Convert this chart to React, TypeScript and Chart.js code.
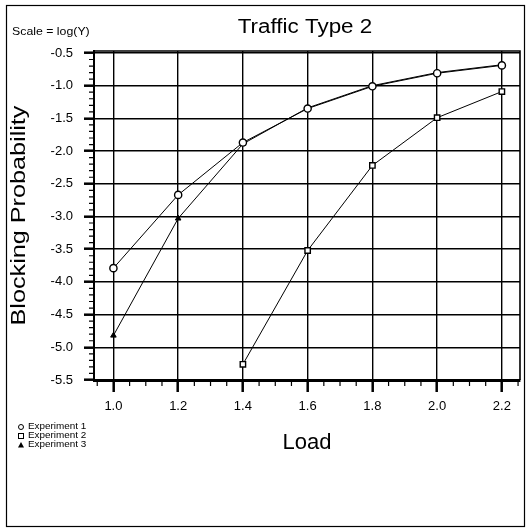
import React, { useEffect, useRef } from "react";
import { Chart, registerables } from "chart.js";

Chart.register(...registerables);

// ---- data ----
const loads = [1.0, 1.2, 1.4, 1.6, 1.8, 2.0, 2.2];
const experiment1 = [-3.79, -2.67, -1.87, -1.35, -1.01, -0.81, -0.69];
const experiment2 = [null, null, -5.26, -3.52, -2.22, -1.49, -1.09];
const experiment3 = [-4.82, -3.03, -1.89, -1.34, -1.0, -0.8, -0.68];
const seriesLabels = ["Experiment 1", "Experiment 2", "Experiment 3"];
const xTickValues = [1.0, 1.2, 1.4, 1.6, 1.8, 2.0, 2.2];
const yTickValues = [-5.5, -5.0, -4.5, -4.0, -3.5, -3.0, -2.5, -2.0, -1.5, -1.0, -0.5];
const titleText = "Traffic Type 2";
const scaleNote = "Scale = log(Y)";
const xTitle = "Load";
const yTitle = "Blocking Probability";

const FONT = "'Liberation Sans', Arial, Helvetica, sans-serif";

function toPoints(values: (number | null)[]) {
  return loads
    .map((x, i) => ({ x, y: values[i] }))
    .filter((p) => p.y !== null) as { x: number; y: number }[];
}

function stretchedText(ctx: any, text: string, x: number, y: number, stretch: number, rotate = 0) {
  ctx.save();
  ctx.translate(x, y);
  if (rotate) ctx.rotate(rotate);
  ctx.scale(stretch, 1);
  ctx.fillText(text, 0, 0);
  ctx.restore();
}

const decorPlugin = {
  id: "decor",
  beforeDraw(chart: any) {
    const { ctx, width, height } = chart;
    ctx.save();
    ctx.fillStyle = "#fff";
    ctx.fillRect(0, 0, width, height);
    ctx.restore();
  },
  afterDraw(chart: any) {
    const { ctx, chartArea } = chart;
    const xs = chart.scales.x;
    const ys = chart.scales.y;
    ctx.save();
    ctx.strokeStyle = "#000";
    ctx.fillStyle = "#000";

    // outer frame
    ctx.lineWidth = 1.2;
    ctx.strokeRect(6.5, 5.5, 518, 521);

    // plot frame top / right
    ctx.lineWidth = 1.6;
    ctx.beginPath();
    ctx.moveTo(chartArea.left, chartArea.top);
    ctx.lineTo(chartArea.right, chartArea.top);
    ctx.lineTo(chartArea.right, chartArea.bottom);
    ctx.stroke();

    // minor ticks y (0.1 step)
    ctx.lineWidth = 1.2;
    ctx.beginPath();
    for (let i = -55; i <= -5; i++) {
      if (i % 5 === 0) continue;
      const y = ys.getPixelForValue(i / 10);
      ctx.moveTo(chartArea.left - 5, y);
      ctx.lineTo(chartArea.left, y);
    }
    // minor ticks x (0.05 step)
    for (let i = 19; i <= 45; i++) {
      if (i % 4 === 0) continue;
      const v = i * 0.05;
      if (v < xs.min || v > xs.max) continue;
      const x = xs.getPixelForValue(v);
      ctx.moveTo(x, chartArea.bottom);
      ctx.lineTo(x, chartArea.bottom + 6);
    }
    ctx.stroke();

    const cx = (chartArea.left + chartArea.right) / 2;
    const cy = (chartArea.top + chartArea.bottom) / 2;

    // title
    ctx.textAlign = "center";
    ctx.textBaseline = "alphabetic";
    ctx.font = `20px ${FONT}`;
    stretchedText(ctx, titleText, cx - 2, 33, 1.12);

    // scale note
    ctx.textAlign = "left";
    ctx.textBaseline = "middle";
    ctx.font = `11px ${FONT}`;
    stretchedText(ctx, scaleNote, 12, 32, 1.12);

    // x title
    ctx.textAlign = "center";
    ctx.font = `22px ${FONT}`;
    stretchedText(ctx, xTitle, cx, 443, 1.0);

    // y title
    ctx.font = `21px ${FONT}`;
    stretchedText(ctx, yTitle, 19, cy, 1.2, -Math.PI / 2);

    // legend
    ctx.font = `9px ${FONT}`;
    ctx.textAlign = "left";
    ctx.lineWidth = 1;
    const rows = [427, 436, 445];
    seriesLabels.forEach((label, i) => {
      const y = rows[i];
      const sx = 21;
      ctx.beginPath();
      if (i === 0) {
        ctx.arc(sx, y, 2.5, 0, Math.PI * 2);
        ctx.stroke();
      } else if (i === 1) {
        ctx.strokeRect(sx - 2.5, y - 2.5, 5, 5);
      } else {
        ctx.moveTo(sx, y - 3);
        ctx.lineTo(sx + 3, y + 2.5);
        ctx.lineTo(sx - 3, y + 2.5);
        ctx.closePath();
        ctx.fill();
      }
      stretchedText(ctx, label, 28, y, 1.1);
    });

    ctx.restore();
  },
};

export default function App() {
  const canvasRef = useRef<HTMLCanvasElement | null>(null);

  useEffect(() => {
    if (!canvasRef.current) return;
    const chart = new Chart(canvasRef.current, {
      type: "line",
      data: {
        datasets: [
          {
            label: seriesLabels[0],
            data: toPoints(experiment1),
            borderColor: "#000",
            borderWidth: 1,
            pointStyle: "circle",
            pointRadius: 3.6,
            pointBorderWidth: 1.4,
            pointBackgroundColor: "#fff",
            pointBorderColor: "#000",
            tension: 0,
          },
          {
            label: seriesLabels[1],
            data: toPoints(experiment2),
            borderColor: "#000",
            borderWidth: 1,
            pointStyle: "rect",
            pointRadius: 3.8,
            pointBorderWidth: 1.4,
            pointBackgroundColor: "#fff",
            pointBorderColor: "#000",
            tension: 0,
          },
          {
            label: seriesLabels[2],
            data: toPoints(experiment3),
            borderColor: "#000",
            borderWidth: 1,
            pointStyle: "triangle",
            pointRadius: 3.2,
            pointBorderWidth: 1,
            pointBackgroundColor: "#000",
            pointBorderColor: "#000",
            tension: 0,
          },
        ],
      },
      options: {
        responsive: false,
        animation: false,
        layout: { padding: { left: 0, top: 51, right: 9, bottom: 0 } },
        plugins: {
          legend: { display: false },
          title: { display: false },
          tooltip: { enabled: false },
        },
        scales: {
          x: {
            type: "linear",
            min: 0.94,
            max: 2.256,
            afterFit: (s: any) => {
              s.height = 151;
            },
            afterBuildTicks: (s: any) => {
              s.ticks = xTickValues.map((v) => ({ value: v }));
            },
            grid: {
              color: "#000",
              lineWidth: 1.4,
              tickLength: 12,
              tickWidth: 2.5,
              tickColor: "#000",
            },
            border: { color: "#000", width: 3 },
            ticks: {
              color: "#000",
              padding: 7,
              maxRotation: 0,
              autoSkip: false,
              font: { family: FONT, size: 13 },
              callback: (v: any) => Number(v).toFixed(1),
            },
          },
          y: {
            type: "linear",
            min: -5.5,
            max: -0.47,
            afterFit: (s: any) => {
              s.width = 94;
            },
            afterBuildTicks: (s: any) => {
              s.ticks = yTickValues.map((v) => ({ value: v }));
            },
            grid: {
              color: "#000",
              lineWidth: 1.4,
              tickLength: 10,
              tickWidth: 2.5,
              tickColor: "#000",
            },
            border: { color: "#000", width: 2 },
            ticks: {
              color: "#000",
              padding: 11,
              autoSkip: false,
              font: { family: FONT, size: 13 },
              callback: (v: any) => Number(v).toFixed(1),
            },
          },
        },
      },
      plugins: [decorPlugin],
    } as any);
    return () => chart.destroy();
  }, []);

  return (
    <div style={{ position: "fixed", left: 0, top: 0, width: 529, height: 531, background: "#fff" }}>
      <canvas ref={canvasRef} width={529} height={531} style={{ width: 529, height: 531, display: "block" }} />
    </div>
  );
}
